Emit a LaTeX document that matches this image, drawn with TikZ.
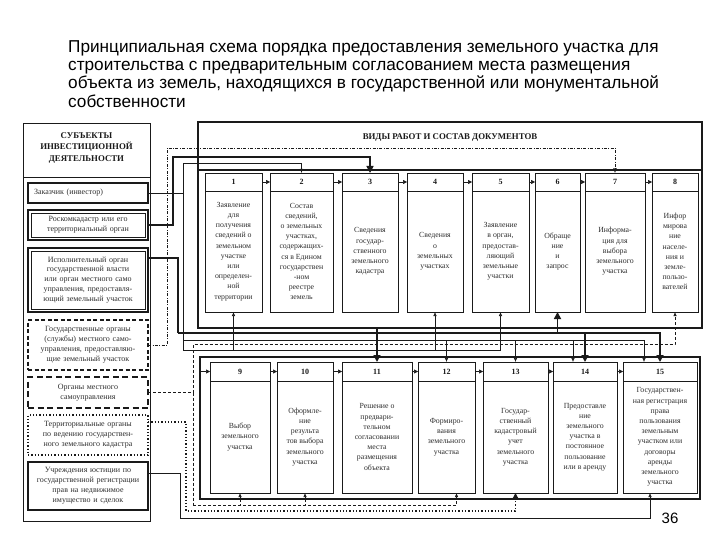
\documentclass[tikz,border=0pt]{standalone}
\usepackage{fontspec}
\setmainfont{Liberation Serif}
\newfontfamily\titlefont{Liberation Sans}
\usepackage{tikz}
\usetikzlibrary{calc,positioning,arrows.meta}
\definecolor{scanInk}{HTML}{1A1A1A}
\definecolor{scanText}{HTML}{2E2E2E}
\tikzset{
  titletext/.style={font=\titlefont\fontsize{17.2}{18.4}\selectfont, align=left, inner sep=0pt, text=black},
  pagenum/.style={font=\titlefont\fontsize{15}{16}\selectfont, text=black, inner sep=0pt},
  colframe/.style={rectangle, draw=scanInk, line width=0.9pt, outer sep=0pt},
  colhead/.style={align=center, font=\fontsize{8.8}{11.5}\selectfont\bfseries, text=scanInk, inner sep=0pt},
  subjbox/.style={rectangle, draw=scanInk, align=center, font=\fontsize{8}{9.9}\selectfont, text=scanText, text width=114pt, minimum width=120pt, inner sep=1pt, outer sep=0pt},
  panelbox/.style={rectangle, draw=scanInk, line width=1.5pt, outer sep=0pt},
  paneltitle/.style={font=\fontsize{8.8}{10}\selectfont\bfseries, text=scanInk, inner sep=0pt},
  cellhead/.style={rectangle, draw=scanInk, line width=0.6pt, font=\fontsize{8}{9}\selectfont\bfseries, text=scanInk, inner sep=0pt, outer sep=0pt},
  cellbody/.style={rectangle, draw=scanInk, line width=0.6pt, align=center, font=\fontsize{7.8}{10.2}\selectfont, text=scanText, inner sep=1pt, outer sep=0pt},
  framerule/.style={draw=scanInk, line width=0.7pt},
  % --- connector styles ---
  feedline/.style={draw=scanInk, line width=0.55pt},
  feedarrow/.style={feedline, -{Latex[length=4pt,width=3.4pt]}},
  mainline/.style={draw=scanInk, line width=1.6pt},
  mainarrow/.style={mainline, -{Triangle[length=7pt,width=7pt]}},
  dashline/.style={draw=scanInk, line width=0.6pt, dash pattern=on 3pt off 2pt},
  dasharrow/.style={dashline, -{Latex[length=4pt,width=3.4pt]}},
  dashdotarrow/.style={draw=scanInk, line width=0.6pt, dash pattern=on 3pt off 1.5pt on 0.8pt off 1.5pt, -{Latex[length=4.5pt,width=4pt]}},
  dotarrow/.style={draw=scanInk, line width=1.3pt, dotted, -{Triangle[length=6pt,width=6pt]}},
  steparrow/.style={draw=scanInk, line width=0.5pt, -{Triangle[length=4pt,width=4pt]}},
}

\begin{document}
\begin{tikzpicture}[x=1pt,y=-1pt]
  \useasboundingbox (0,0) rectangle (720,540);

  \node[titletext, anchor=north west] (title) at (68,40) {Принципиальная схема порядка предоставления земельного участка для\\строительства с предварительным согласованием места размещения\\объекта из земель, находящихся в государственной или монументальной\\собственности};

  % --- subjects column ---
  \node[colframe, minimum width=127pt, minimum height=398pt] (subjects) at (86.5,322) {};
  \node[colhead] (subjhead) at (86.5,148) {СУБЪЕКТЫ\\ИНВЕСТИЦИОННОЙ\\ДЕЯТЕЛЬНОСТИ};
  \draw[framerule] (subjects.west |- 0,177) -- (subjects.east |- 0,177);

  \node[subjbox, line width=1.6pt, align=left, text width=108pt, inner xsep=5pt, minimum height=20pt] (zak) at (88,193) {Заказчик (инвестор)};
  \node[subjbox, line width=1.8pt, minimum height=30pt] (rosk) at (88,225) {Роскомкадастр или его\\территориальный орган};
  \draw[framerule, line width=0.5pt] ($(rosk.north west)+(3,3)$) rectangle ($(rosk.south east)+(-3,-3)$);
  \node[subjbox, line width=1.8pt, minimum height=64pt] (ispol) at (88,280) {Исполнительный орган\\государственной власти\\или орган местного само\\управления, предоставля-\\ющий земельный участок};
  \draw[framerule, line width=0.5pt] ($(ispol.north west)+(3,3)$) rectangle ($(ispol.south east)+(-3,-3)$);
  \node[subjbox, line width=1.3pt, dash pattern=on 4pt off 2.5pt, minimum height=50pt] (gosorg) at (88,345) {Государственные органы\\(службы) местного само-\\управления, предоставляю-\\щие земельный участок};
  \node[subjbox, line width=1.6pt, dash pattern=on 6pt off 3.5pt, minimum height=31pt] (mestn) at (88,392.5) {Органы местного\\самоуправления};
  \node[subjbox, line width=1.3pt, dotted, minimum height=40pt] (terr) at (88,435) {Территориальные органы\\по ведению государствен-\\ного земельного кадастра};
  \node[subjbox, line width=1.1pt, minimum height=48pt] (just) at (88,486) {Учреждения юстиции по\\государственной регистрации\\прав на недвижимое\\имущество и сделок};

  % --- works and documents ---
  \node[panelbox, minimum width=504pt, minimum height=206pt] (works) at (450,225) {};
  \node[paneltitle] (workstitle) at (450,138) {ВИДЫ РАБОТ И СОСТАВ ДОКУМЕНТОВ};
  \draw[framerule, line width=1.3pt] (works.west |- 0,170) -- (works.east |- 0,170);

  \node[cellhead, minimum width=57pt, minimum height=18pt] (h1) at (233.5,182) {1};
  \node[cellbody, minimum width=57pt, minimum height=121pt, below=0pt of h1] (t1) {Заявление\\для\\получения\\сведений о\\земельном\\участке\\или\\определен-\\ной\\территории};
  \node[cellhead, minimum width=63pt, minimum height=18pt] (h2) at (301.5,182) {2};
  \node[cellbody, minimum width=63pt, minimum height=121pt, below=0pt of h2] (t2) {Состав\\сведений,\\о земельных\\участках,\\содержащих-\\ся в Едином\\государствен\\-ном\\реестре\\земель};
  \node[cellhead, minimum width=56pt, minimum height=18pt] (h3) at (370,182) {3};
  \node[cellbody, minimum width=56pt, minimum height=121pt, below=0pt of h3] (t3) {Сведения\\государ-\\ственного\\земельного\\кадастра};
  \node[cellhead, minimum width=56pt, minimum height=18pt] (h4) at (435,182) {4};
  \node[cellbody, minimum width=56pt, minimum height=121pt, below=0pt of h4] (t4) {Сведения\\о\\земельных\\участках};
  \node[cellhead, minimum width=57pt, minimum height=18pt] (h5) at (500.5,182) {5};
  \node[cellbody, minimum width=57pt, minimum height=121pt, below=0pt of h5] (t5) {Заявление\\в орган,\\предостав-\\ляющий\\земельные\\участки};
  \node[cellhead, minimum width=45pt, minimum height=18pt] (h6) at (557.5,182) {6};
  \node[cellbody, minimum width=45pt, minimum height=121pt, below=0pt of h6] (t6) {Обраще\\ние\\и\\запрос};
  \node[cellhead, minimum width=60pt, minimum height=18pt] (h7) at (615,182) {7};
  \node[cellbody, minimum width=60pt, minimum height=121pt, below=0pt of h7] (t7) {Информа-\\ция для\\выбора\\земельного\\участка};
  \node[cellhead, minimum width=46pt, minimum height=18pt] (h8) at (675,182) {8};
  \node[cellbody, minimum width=46pt, minimum height=121pt, below=0pt of h8] (t8) {Инфор\\мирова\\ние\\населе-\\ния и\\земле-\\пользо-\\вателей};

  \draw[steparrow] (h1.east) -- (h2.west);
  \draw[steparrow] (h2.east) -- (h3.west);
  \draw[steparrow] (h3.east) -- (h4.west);
  \draw[steparrow] (h4.east) -- (h5.west);
  \draw[steparrow] (h5.east) -- (h6.west);
  \draw[steparrow] (h6.east) -- (h7.west);
  \draw[steparrow] (h7.east) -- (h8.west);

  % --- stages ---
  \node[panelbox, minimum width=500pt, minimum height=142pt] (stages) at (450,428) {};

  \node[cellhead, minimum width=60pt, minimum height=19pt] (h9) at (240,371.5) {9};
  \node[cellbody, minimum width=60pt, minimum height=112pt, below=0pt of h9] (t9) {Выбор\\земельного\\участка};
  \node[cellhead, minimum width=56pt, minimum height=19pt] (h10) at (305,371.5) {10};
  \node[cellbody, minimum width=56pt, minimum height=112pt, below=0pt of h10] (t10) {Оформле-\\ние\\результа\\тов выбора\\земельного\\участка};
  \node[cellhead, minimum width=70pt, minimum height=19pt] (h11) at (377,371.5) {11};
  \node[cellbody, minimum width=70pt, minimum height=112pt, below=0pt of h11] (t11) {Решение о\\предвари-\\тельном\\согласовании\\места\\размещения\\объекта};
  \node[cellhead, minimum width=57pt, minimum height=19pt] (h12) at (446.5,371.5) {12};
  \node[cellbody, minimum width=57pt, minimum height=112pt, below=0pt of h12] (t12) {Формиро-\\вания\\земельного\\участка};
  \node[cellhead, minimum width=65pt, minimum height=19pt] (h13) at (515.5,371.5) {13};
  \node[cellbody, minimum width=65pt, minimum height=112pt, below=0pt of h13] (t13) {Государ-\\ственный\\кадастровый\\учет\\земельного\\участка};
  \node[cellhead, minimum width=64pt, minimum height=19pt] (h14) at (585,371.5) {14};
  \node[cellbody, minimum width=64pt, minimum height=112pt, below=0pt of h14] (t14) {Предоставле\\ние\\земельного\\участка в\\постоянное\\пользование\\или в аренду};
  \node[cellhead, minimum width=74pt, minimum height=19pt] (h15) at (660,371.5) {15};
  \node[cellbody, minimum width=74pt, minimum height=112pt, below=0pt of h15] (t15) {Государствен-\\ная регистрация\\права\\пользования\\земельным\\участком или\\договоры\\аренды\\земельного\\участка};

  \draw[steparrow] (stages.west |- h9.west) -- (h9.west);
  \draw[steparrow] (h9.east) -- (h10.west);
  \draw[steparrow] (h10.east) -- (h11.west);
  \draw[steparrow] (h11.east) -- (h12.west);
  \draw[steparrow] (h12.east) -- (h13.west);
  \draw[steparrow] (h13.east) -- (h14.west);
  \draw[steparrow] (h14.east) -- (h15.west);

  % --- customer ---
  \coordinate (zakbus) at (183,193);
  \coordinate (zaktop) at (183,163);
  \coordinate (zakmid) at (183,340);
  \coordinate (zaklow) at (183,350);
  \draw[feedline] (zak.east) -- (zakbus);
  \draw[feedarrow] (zakbus) -- (zaktop) -| (h2.north);
  \draw[feedline] (zakbus) -- (zaklow);
  \draw[feedarrow] (zaklow) -| (t1.south);
  \draw[feedarrow] (zaklow) -| (t4.south);
  \draw[feedarrow] (zaklow) -| (t5.south);
  \draw[feedarrow] (zakmid) -| (h12.north);
  \draw[feedarrow] (zakmid) -| (h13.north);
  \draw[feedarrow] (zakmid) -| ([xshift=-12pt]h14.north);
  \draw[feedarrow] (zakmid) -| ([xshift=-16pt]h15.north);

  % --- roskomkadastr ---
  \coordinate (roskbend) at (173,157);
  \draw[mainarrow] (rosk.east) -| (roskbend) -| (h3.north);

  % --- executive authority ---
  \coordinate (ispbend) at (178,333);
  \draw[mainline] ([yshift=-10pt]ispol.north east) -| (ispbend);
  \draw[mainarrow] (ispbend) -| (t6.south);
  \draw[mainarrow] (ispbend) -| (h14.north);
  \draw[mainarrow] (ispbend) -| (h15.north);

  % --- state bodies ---
  \coordinate (gosbend) at (167,148);
  \draw[dashdotarrow] (gosorg.east) -| (gosbend) -| (h7.north);

  % --- local government ---
  \coordinate (mestnbend) at (193,392.5);
  \coordinate (mestnhigh) at (193,344);
  \coordinate (mestnlow) at (193,505);
  \draw[dashline] (mestn.east) -- (mestnbend);
  \draw[dasharrow] (mestnbend) -- (mestnhigh) -| (t8.south);
  \draw[dashline] (mestnbend) -- (mestnlow);
  \draw[dasharrow] (mestnlow) -| (t9.south);
  \draw[dasharrow] (mestnlow) -| (t10.south);
  \draw[dasharrow] (mestnlow) -| ([xshift=10pt]t12.south);

  % --- cadastre bodies ---
  \coordinate (terrbend) at (186,511);
  \draw[dotarrow] ([yshift=-7pt]terr.north east) -| (terrbend) -| (t13.south);

  % --- justice ---
  \coordinate (justbend) at (180,518);
  \draw[feedarrow] ([yshift=-11pt]just.north east) -| (justbend) -| ([xshift=-10pt]t15.south);

  % --- works to decision ---
  \draw[mainarrow] (works.south -| h11.north) -- (h11.north);

  \node[pagenum] (pageno) at (670,518) {36};
\end{tikzpicture}
\end{document}
